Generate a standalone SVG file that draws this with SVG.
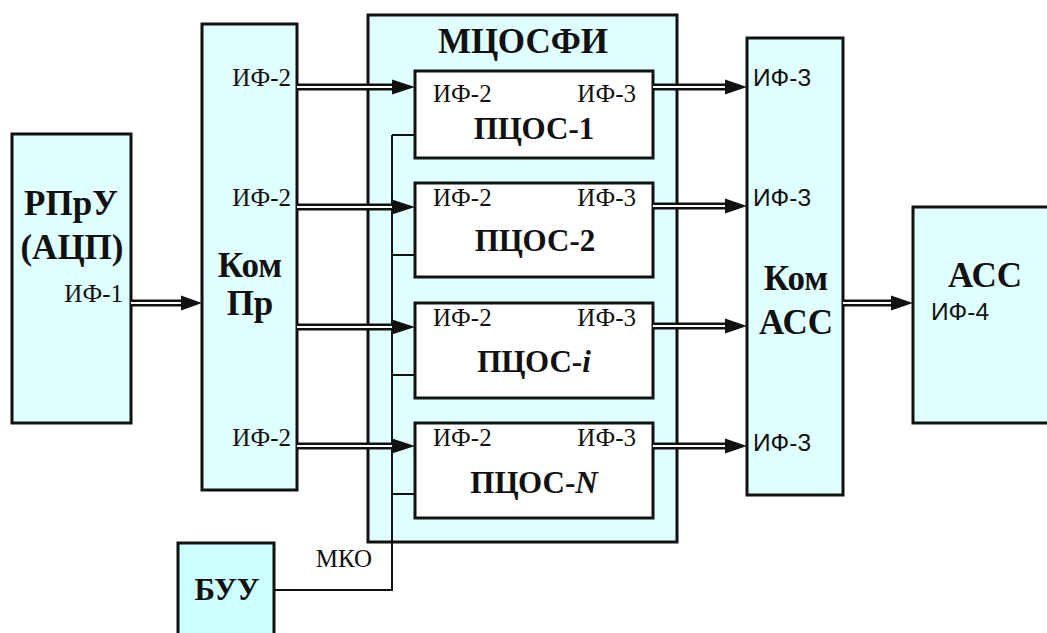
<svg xmlns="http://www.w3.org/2000/svg" width="1047" height="633" viewBox="0 0 1047 633">
<defs>
<style>
.box{fill:#e0ffff;stroke:#111;stroke-width:3}
.wbox{fill:#fff;stroke:#111;stroke-width:3}
.buu{fill:#ccffff;stroke:#111;stroke-width:3}
.t{font-family:"Liberation Serif","Times New Roman",serif;font-size:25px;fill:#111}
.s{font-family:"Liberation Sans",Arial,sans-serif;font-size:24.5px;fill:#111}
.b{font-family:"Liberation Serif","Times New Roman",serif;font-weight:bold;font-size:35px;fill:#111}
.bm{font-family:"Liberation Serif","Times New Roman",serif;font-weight:bold;font-size:31px;fill:#111}
.dl{stroke:#111;stroke-width:7;fill:none}
.dw{stroke:#fff;stroke-width:2;fill:none}
.ctl{stroke:#111;stroke-width:2;fill:none}
.ah{fill:#111}
</style>
</defs>
<g id="node-rpru">
<rect class="box" x="12" y="134" width="119" height="289"/>
<text class="b" x="71" y="215" text-anchor="middle">РПрУ</text>
<text class="b" x="72" y="259" text-anchor="middle">(АЦП)</text>
<text class="t" x="123" y="302" text-anchor="end">ИФ-1</text>
</g>
<g id="node-kompr">
<rect class="box" x="202" y="24" width="95" height="466"/>
<text class="b" x="250" y="277" text-anchor="middle">Ком</text>
<text class="b" x="250" y="315" text-anchor="middle">Пр</text>
<text class="t" x="291" y="86" text-anchor="end">ИФ-2</text>
<text class="t" x="291" y="206" text-anchor="end">ИФ-2</text>
<text class="t" x="291" y="446" text-anchor="end">ИФ-2</text>
</g>
<g id="node-mcosfi">
<rect class="box" x="368" y="15" width="309" height="527"/>
<text class="b" x="523" y="53" text-anchor="middle" font-size="37">МЦОСФИ</text>
</g>
<g id="node-pcos1">
<rect class="wbox" x="415" y="71" width="238" height="87"/>
<text class="t" x="433" y="102">ИФ-2</text>
<text class="t" x="636" y="102" text-anchor="end">ИФ-3</text>
<text class="bm" x="534" y="139" text-anchor="middle">ПЦОС-1</text>
</g>
<g id="node-pcos2">
<rect class="wbox" x="415" y="183" width="238" height="94"/>
<text class="t" x="433" y="206">ИФ-2</text>
<text class="t" x="636" y="206" text-anchor="end">ИФ-3</text>
<text class="bm" x="535" y="251" text-anchor="middle">ПЦОС-2</text>
</g>
<g id="node-pcosi">
<rect class="wbox" x="415" y="303" width="238" height="95"/>
<text class="t" x="433" y="326">ИФ-2</text>
<text class="t" x="636" y="326" text-anchor="end">ИФ-3</text>
<text class="bm" x="534" y="372" text-anchor="middle">ПЦОС-<tspan font-style="italic">i</tspan></text>
</g>
<g id="node-pcosn">
<rect class="wbox" x="415" y="423" width="238" height="95"/>
<text class="t" x="433" y="446">ИФ-2</text>
<text class="t" x="636" y="446" text-anchor="end">ИФ-3</text>
<text class="bm" x="534" y="493" text-anchor="middle">ПЦОС-<tspan font-style="italic">N</tspan></text>
</g>
<g id="node-komacc">
<rect class="box" x="747" y="38" width="96" height="457"/>
<text class="b" x="796" y="290" text-anchor="middle">Ком</text>
<text class="b" x="796" y="334" text-anchor="middle">АСС</text>
<text class="s" x="753" y="86">ИФ-3</text>
<text class="s" x="753" y="206">ИФ-3</text>
<text class="s" x="753" y="451">ИФ-3</text>
</g>
<g id="node-acc">
<rect class="box" x="913" y="207" width="136" height="216"/>
<text class="b" x="985" y="287" text-anchor="middle">АСС</text>
<text class="s" x="931" y="320" font-size="23.5">ИФ-4</text>
</g>
<g id="node-buu">
<rect class="buu" x="178" y="543" width="96" height="100"/>
<text class="bm" x="227" y="600" text-anchor="middle" font-size="23">БУУ</text>
</g>
<g id="connectors">
<path class="ctl" d="M392,135 H415 M392,255 H415 M392,375 H415 M392,494 H415 M392,135 V590 H275"/>
<text class="t" x="344" y="567" text-anchor="middle">МКО</text>
<path class="dl" d="M131,303 H186"/>
<path class="dw" d="M131,303 H186"/>
<polygon class="ah" points="202,303 181,295.5 181,310.5"/>
<path class="dl" d="M297,87 H396 M297,207 H396 M297,327 H396 M297,446 H396"/>
<path class="dw" d="M297,87 H396 M297,207 H396 M297,327 H396 M297,446 H396"/>
<polygon class="ah" points="415,87 392,79.5 392,94.5"/>
<polygon class="ah" points="415,207 392,199.5 392,214.5"/>
<polygon class="ah" points="415,327 392,319.5 392,334.5"/>
<polygon class="ah" points="415,446 392,438.5 392,453.5"/>
<path class="dl" d="M653,87 H731 M653,206 H731 M653,326 H731 M653,446 H731"/>
<path class="dw" d="M653,87 H731 M653,206 H731 M653,326 H731 M653,446 H731"/>
<polygon class="ah" points="747,87 725,79.5 725,94.5"/>
<polygon class="ah" points="747,206 725,198.5 725,213.5"/>
<polygon class="ah" points="747,326 725,318.5 725,333.5"/>
<polygon class="ah" points="747,446 725,438.5 725,453.5"/>
<path class="dl" d="M843,303 H896"/>
<path class="dw" d="M843,303 H896"/>
<polygon class="ah" points="913,303 891,295.5 891,310.5"/>
</g>
</svg>
